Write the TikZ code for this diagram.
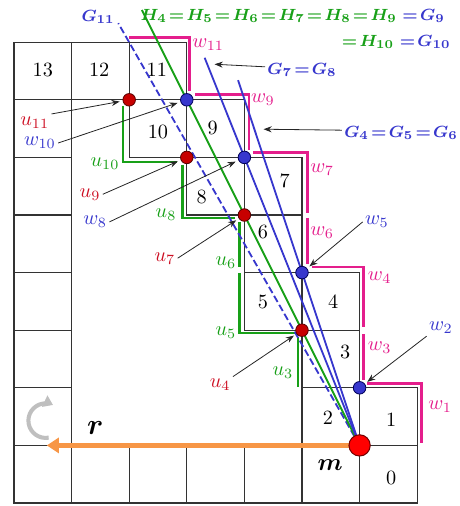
\documentclass[tikz,border=0pt]{standalone}
\usepackage{amsmath,amssymb,bm}
\usetikzlibrary{arrows.meta,positioning,calc}
\definecolor{wmag}{RGB}{228,30,140}
\definecolor{ugrn}{RGB}{24,160,24}
\definecolor{gblu}{RGB}{55,55,205}
\definecolor{ured}{RGB}{205,15,35}
\definecolor{rorg}{RGB}{247,150,70}
\newcommand{\eqfont}{\footnotesize\boldmath\thickmuskip=2mu\relax}
\tikzset{
  cell/.style={draw=black!80,line width=0.6pt},
  cnum/.style={font=\normalsize},
  wline/.style={wmag,line width=1.3pt},
  uline/.style={ugrn,line width=1.3pt},
  gline/.style={gblu,line width=0.9pt},
  hray/.style={ugrn,line width=0.9pt},
  gdash/.style={gline,dash pattern=on 3.5pt off 1.6pt},
  udot/.style={circle,fill=red!78!black,draw=red!35!black,line width=0.4pt,inner sep=0pt,minimum size=6.2pt},
  wdot/.style={circle,fill=gblu,draw=blue!35!black,line width=0.4pt,inner sep=0pt,minimum size=6.2pt},
  mdot/.style={circle,fill=red,draw=red!45!black,line width=0.5pt,inner sep=0pt,minimum size=10.5pt},
  redlbl/.style={text=ured,font=\normalsize,inner sep=1pt},
  grnlbl/.style={text=ugrn,font=\normalsize,inner sep=1pt},
  maglbl/.style={text=wmag,font=\normalsize,inner sep=1pt},
  blulbl/.style={text=gblu,font=\normalsize,inner sep=1pt},
  eqlbl/.style={font=\eqfont,inner sep=1pt},
  ptr/.style={-{Stealth[length=4pt,width=3pt]},black!85,line width=0.4pt,shorten >=1.5pt},
  rarr/.style={-{Triangle[length=6pt,width=7.5pt]},rorg,line width=2.6pt},
  turnarr/.style={-{Triangle[length=4.5pt,width=6pt]},black!25,line width=2pt}
}
\begin{document}
\begin{tikzpicture}[x=1cm,y=1cm]
  \useasboundingbox (-0.243,-0.052) rectangle (7.726,8.733);

  % grid cells
  \foreach \c/\r in {0/0,1/0,2/0,3/0,4/0,5/0,6/0,0/1,0/2,0/3,0/4,0/5,0/6,0/7,
                     1/7,2/7,2/6,3/6,3/5,4/5,4/4,4/3,5/3,5/2,5/1,6/1}
    \draw[cell] (\c,\r) rectangle ++(1,1);

  % cell numbers
  \foreach \n/\x/\y in {13/0.5/7.52,12/1.48/7.52,11/2.48/7.52,10/2.5/6.45,9/3.45/6.51,
                        8/3.26/5.31,7/4.7/5.6,6/4.32/4.7,5/4.32/3.49,4/5.54/3.49,
                        3/5.75/2.62,2/5.45/1.48,1/6.55/1.44,0/6.55/0.43}
    \node[cnum] (c\n) at (\x,\y) {\n};

  % outer rim (w)
  \draw[wline] (2,8.08) -- (3.05,8.08) -- (3.05,7.15);
  \draw[wline] (3.15,7.09) -- (4.08,7.09) -- (4.08,6.13);
  \draw[wline] (4.15,6.09) -- (5.1,6.09) -- (5.1,5.03);
  \draw[wline] (5.1,4.95) -- (5.1,4.15);
  \draw[wline] (5.17,4.1) -- (6.07,4.1) -- (6.07,3.06);
  \draw[wline] (6.07,2.93) -- (6.07,2.14);
  \draw[wline] (6.13,2.07) -- (7.08,2.07) -- (7.08,1.04);

  % inner rim (u)
  \draw[uline] (1.89,6.89) -- (1.89,5.92) -- (2.83,5.92);
  \draw[uline] (2.92,5.87) -- (2.92,4.95) -- (3.84,4.95);
  \draw[uline] (3.92,4.88) -- (3.92,4.1);
  \draw[uline] (3.92,3.99) -- (3.92,2.95) -- (4.88,2.95);
  \draw[uline] (4.93,2.88) -- (4.93,2.01);

  % rays from m
  \coordinate (m) at (6,1);
  \coordinate (g11top) at (1.81,8.33);
  \coordinate (h4top) at (2.22,8.56);
  \coordinate (g7top) at (3.31,7.73);
  \coordinate (g4top) at (3.89,7.34);
  \draw[gdash] (m) -- (g11top);
  \draw[hray] (m) -- (h4top);
  \draw[gline] (m) -- (g7top);
  \draw[gline] (m) -- (g4top);

  % direction r
  \coordinate (rtip) at (0.57,1.0);
  \draw[rarr] (m) -- (rtip);
  \draw[turnarr] (0.55,1.43) ++(-80:0.3) arc[start angle=-80,end angle=-295,radius=0.3];

  % corner points
  \foreach \nm/\x/\y in {u11/2/7,u9/3/6,u7/4/5,u4/5/3}
    \node[udot] (\nm) at (\x,\y) {};
  \foreach \nm/\x/\y in {w10/3/7,w8/4/6,w5/5/4,w2/6/2}
    \node[wdot] (\nm) at (\x,\y) {};
  \node[mdot] (mpt) at (m) {};

  % ray labels
  \node[eqlbl,text=gblu] (lg11) at (1.46,8.44) {$G_{11}$};
  \node[eqlbl,anchor=east] (lh4) at (7.52,8.45)
    {\color{ugrn}$H_4=H_5=H_6=H_7=H_8=H_9$ \color{gblu}$=G_9$};
  \node[eqlbl,anchor=east] (lh10) at (7.62,8.01)
    {\color{ugrn}$=H_{10}$ \color{gblu}$=G_{10}$};
  \node[eqlbl,text=gblu] (lg7) at (5.0,7.52) {$G_7=G_8$};
  \node[eqlbl,text=gblu] (lg4) at (6.72,6.42) {$G_4=G_5=G_6$};
  \coordinate (g7hit) at (3.43,7.62);
  \coordinate (g4hit) at (4.28,6.49);
  \draw[ptr] ([yshift=1.5pt]lg7.west) -- (g7hit);
  \draw[ptr] ([yshift=1.5pt]lg4.west) -- (g4hit);

  % rim labels
  \node[maglbl] (lw11) at (3.37,7.95) {$w_{11}$};
  \node[maglbl] (lw9) at (4.32,7.0) {$w_9$};
  \node[maglbl] (lw7) at (5.35,5.78) {$w_7$};
  \node[maglbl] (lw6) at (5.35,4.69) {$w_6$};
  \node[maglbl] (lw4) at (6.35,3.92) {$w_4$};
  \node[maglbl] (lw3) at (6.35,2.69) {$w_3$};
  \node[maglbl] (lw1) at (7.40,1.67) {$w_1$};
  \node[blulbl] (lw10) at (0.45,6.25) {$w_{10}$};
  \node[blulbl] (lw8) at (1.41,4.88) {$w_8$};
  \node[blulbl] (lw5) at (6.3,4.88) {$w_5$};
  \node[blulbl] (lw2) at (7.41,3.04) {$w_2$};
  \node[redlbl] (lu11) at (0.36,6.61) {$u_{11}$};
  \node[redlbl] (lu9) at (1.32,5.36) {$u_9$};
  \node[redlbl] (lu7) at (2.62,4.25) {$u_7$};
  \node[redlbl] (lu4) at (3.58,2.05) {$u_4$};
  \node[grnlbl] (lu10) at (1.58,5.9) {$u_{10}$};
  \node[grnlbl] (lu8) at (2.64,5.0) {$u_8$};
  \node[grnlbl] (lu6) at (3.68,4.18) {$u_6$};
  \node[grnlbl] (lu5) at (3.68,2.95) {$u_5$};
  \node[grnlbl] (lu3) at (4.67,2.27) {$u_3$};

  \draw[ptr] (lu11.north east) -- (u11);
  \draw[ptr] (lw10.east) -- (w10);
  \draw[ptr] (lu9.east) -- (u9);
  \draw[ptr] (lw8.east) -- (w8);
  \draw[ptr] (lu7.east) -- (u7);
  \draw[ptr] (lu4.north east) -- (u4);
  \draw[ptr] (lw5.west) -- (w5);
  \draw[ptr] (lw2.south west) -- (w2);

  \node[font=\Large\boldmath] (lr) at (1.41,1.30) {$r$};
  \node[font=\large\boldmath] (lm) at (5.49,0.66) {$m$};
\end{tikzpicture}
\end{document}
